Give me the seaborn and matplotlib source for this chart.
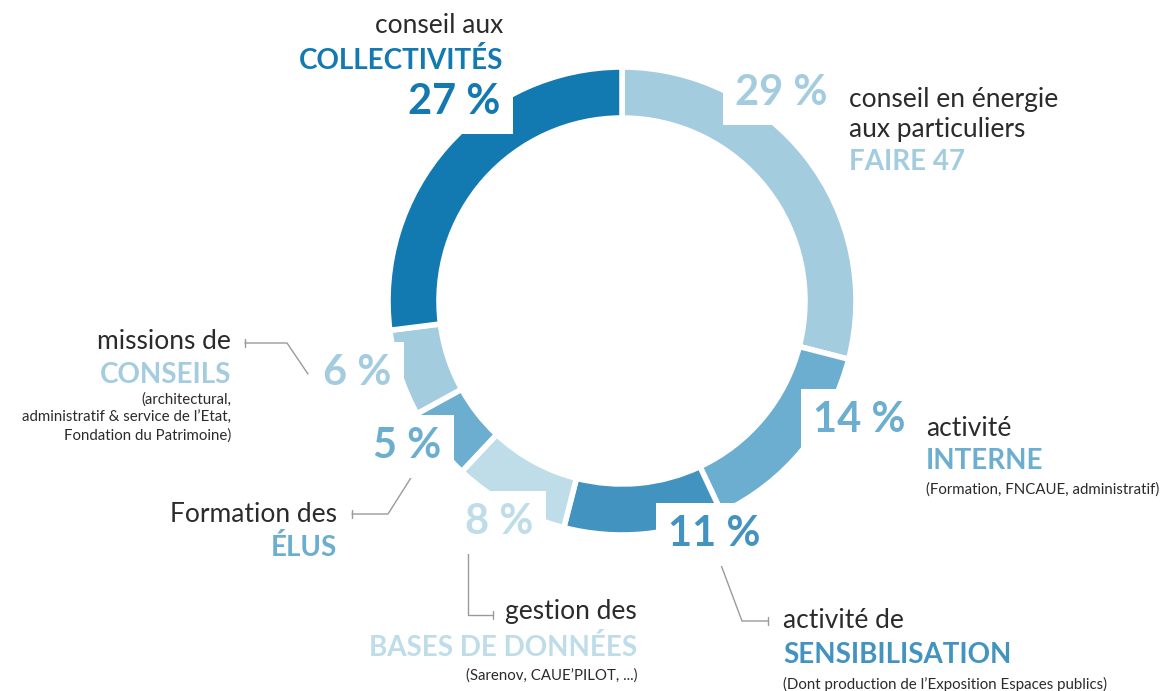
import seaborn as sns
from matplotlib import pyplot as plt

# data
categories = ['conseil en énergie aux particuliers', 'activité interne', 'activité de sensibilisation',
              'gestion des bases de données', 'formation des élus', 'missions de conseils',
              'conseil aux collectivités']
shares = [29, 14, 11, 8, 5, 6, 27]
colors = ['#a3ccdf', '#6caecf', '#4393c0', '#bedde9', '#6caecf', '#a3ccdf', '#1379b1']

W, H = 1166, 691
sns.set_theme(style='white')
plt.rcParams['font.family'] = ['Lato', 'DejaVu Sans']

fig = plt.figure(figsize=(W / 100, H / 100), dpi=100)
ax = fig.add_axes([0, 0, 1, 1])

ax.pie(shares, colors=colors, startangle=90, counterclock=False,
       radius=234, center=(622, H - 301),
       wedgeprops=dict(width=51, edgecolor='white', linewidth=4))
ax.set_xlim(0, W)
ax.set_ylim(0, H)
ax.axis('off')

dark = '#2b2b2b'
grey = '#9a9a9a'


def y(v):
    return H - v


def pct(x, yy, s, c, ha):
    ax.text(x, y(yy), s, color=c, fontsize=30, fontweight='bold', ha=ha, va='center',
            bbox=dict(boxstyle='square,pad=0.3', fc='white', ec='none'), zorder=5)


def label(x, yy, lines, ha):
    # lines: (text, kind, color, offset)
    for txt, kind, c, dy in lines:
        if kind == 'big':
            ax.text(x, y(yy + dy), txt, color=c, fontsize=20, fontweight='bold', ha=ha, va='center')
        elif kind == 'small':
            ax.text(x, y(yy + dy), txt, color=dark, fontsize=10.8, ha=ha, va='center')
        else:
            ax.text(x, y(yy + dy), txt, color=dark, fontsize=19, ha=ha, va='center')


def connector(pts):
    xs = [p[0] for p in pts]
    ys = [y(p[1]) for p in pts]
    ax.plot(xs, ys, color=grey, lw=1, zorder=2)
    ex, ey = pts[-1]
    ax.plot([ex, ex], [y(ey - 4), y(ey + 4)], color=grey, lw=1)


# percentages
pct(500, 102, f'{shares[6]} %', colors[6], 'right')
pct(735, 93, f'{shares[0]} %', colors[0], 'left')
pct(813, 420, f'{shares[1]} %', colors[1], 'left')
pct(668, 534, f'{shares[2]} %', colors[2], 'left')
pct(465, 522, f'{shares[3]} %', colors[3], 'left')
pct(373, 446, f'{shares[4]} %', colors[4], 'left')
pct(323, 373, f'{shares[5]} %', colors[5], 'left')

# labels
label(503, 25, [('conseil aux', 'reg', dark, 0),
                ('COLLECTIVITÉS', 'big', colors[6], 35)], 'right')
label(849, 99, [('conseil en énergie', 'reg', dark, 0),
                ('aux particuliers', 'reg', dark, 30),
                ('FAIRE 47', 'big', colors[0], 63)], 'left')
label(926, 428, [('activité', 'reg', dark, 0),
                 ('INTERNE', 'big', colors[1], 33),
                 ('(Formation, FNCAUE, administratif)', 'small', dark, 62)], 'left')
label(783, 621, [('activité de', 'reg', dark, 0),
                 ('SENSIBILISATION', 'big', colors[2], 34),
                 ('(Dont production de l\u2019Exposition Espaces publics)', 'small', dark, 63)], 'left')
label(637, 612, [('gestion des', 'reg', dark, 0),
                 ('BASES DE DONNÉES', 'big', colors[3], 35),
                 ('(Sarenov, CAUE\u2019PILOT, ...)', 'small', dark, 64)], 'right')
label(337, 514, [('Formation des', 'reg', dark, 0),
                 ('ÉLUS', 'big', colors[4], 34)], 'right')
label(231, 341, [('missions de', 'reg', dark, 0),
                 ('CONSEILS', 'big', colors[5], 34),
                 ('(architectural,', 'small', dark, 59),
                 ('administratif & service de l\u2019Etat,', 'small', dark, 77),
                 ('Fondation du Patrimoine)', 'small', dark, 95)], 'right')

# connectors
connector([(308, 374), (287, 343), (245, 343)])
connector([(414, 473), (388, 514), (352, 514)])
connector([(468, 548), (468, 615), (493, 615)])
connector([(718, 557), (742, 621), (768, 621)])

fig.savefig('out.png', dpi=100)
